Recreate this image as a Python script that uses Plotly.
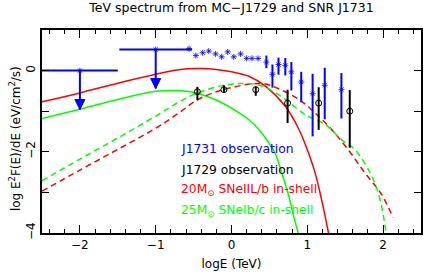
import plotly.graph_objects as go

# ---- model curves (logE [TeV], log E^2 F(E)) ----
red_solid_x = [-2.5, -2.0, -1.5, -1.0, -0.7, -0.45, -0.2, 0.0, 0.23, 0.45, 0.71, 0.89, 1.0, 1.1, 1.19, 1.28]
red_solid_y = [-0.77, -0.55, -0.31, -0.09, 0.02, 0.05, 0.03, -0.03, -0.14, -0.39, -0.88, -1.45, -1.95, -2.5, -3.19, -4.0]

green_solid_x = [-2.5, -2.0, -1.5, -1.0, -0.73, -0.47, -0.16, 0.1, 0.23, 0.36, 0.49, 0.58, 0.65, 0.75, 0.82, 0.88]
green_solid_y = [-1.18, -0.95, -0.71, -0.51, -0.49, -0.55, -0.76, -1.04, -1.21, -1.45, -1.77, -2.05, -2.44, -3.05, -3.59, -4.0]

red_dash_x = [-2.5, -2.0, -1.5, -1.0, -0.7, -0.45, -0.2, 0.0, 0.25, 0.45, 0.6, 0.89, 1.1, 1.32, 1.54, 1.76, 1.98, 2.13]
red_dash_y = [-2.97, -2.45, -1.94, -1.42, -1.05, -0.72, -0.52, -0.42, -0.33, -0.33, -0.43, -0.71, -1.04, -1.45, -1.95, -2.52, -3.05, -3.62]

green_dash_x = [-2.5, -2.0, -1.5, -1.0, -0.7, -0.45, -0.12, 0.1, 0.3, 0.49, 0.71, 0.97, 1.24, 1.45, 1.63, 1.85, 1.96, 2.04]
green_dash_y = [-2.71, -2.18, -1.66, -1.12, -0.78, -0.55, -0.37, -0.32, -0.33, -0.45, -0.71, -1.08, -1.33, -1.70, -1.95, -2.6, -3.18, -4.0]

# ---- J1731 observation ----
ul_x = [-2.0, -1.0]
ul_y = [0.0, 0.52]
ul_xerr = [0.5, 0.48]
ul_tip = [-0.96, -0.44]

j1731_pts_x = [-0.56, -0.47, -0.38, -0.30, -0.21, -0.13, -0.05, 0.03, 0.12, 0.20, 0.27, 0.35]
j1731_pts_y = [0.54, 0.37, 0.44, 0.48, 0.41, 0.34, 0.46, 0.34, 0.41, 0.30, 0.30, 0.30]

j1731_err_x = [0.46, 0.54, 0.62, 0.71, 0.79, 0.92, 1.07, 1.23, 1.45]
j1731_err_y = [0.21, -0.09, 0.15, 0.13, -0.03, -0.28, -0.57, -0.36, -0.47]
j1731_up = [0.16, 0.24, 0.17, 0.18, 0.24, 0.25, 0.49, 0.43, 0.41]
j1731_dn = [0.15, 0.33, 0.25, 0.25, 0.46, 0.50, 1.05, 0.84, 0.71]

# ---- J1729 observation ----
j1729_x = [-0.45, -0.10, 0.32, 0.74, 1.15, 1.56]
j1729_y = [-0.52, -0.47, -0.47, -0.80, -0.80, -1.0]
j1729_up = [0.12, 0.11, 0.08, 0.33, 0.39, 0.52]
j1729_dn = [0.21, 0.08, 0.15, 0.49, 0.66, 0.90]

labels = ["J1731 observation", "J1729 observation",
          "20M<sub>⊙</sub> SNeIIL/b in-shell", "25M<sub>⊙</sub> SNeIb/c in-shell"]
label_y = [-1.92, -2.44, -2.93, -3.45]

BLUE = "#0000ff"
RED = "#ff0000"
GREEN = "#00ff00"
FONT = "DejaVu Sans"

fig = go.Figure()

fig.add_trace(go.Scatter(x=red_solid_x, y=red_solid_y, mode="lines",
                         line=dict(color=RED, width=1.5, shape="spline")))
fig.add_trace(go.Scatter(x=green_solid_x, y=green_solid_y, mode="lines",
                         line=dict(color=GREEN, width=1.5, shape="spline")))
fig.add_trace(go.Scatter(x=red_dash_x, y=red_dash_y, mode="lines",
                         line=dict(color=RED, width=1.5, dash="6px,4px", shape="spline")))
fig.add_trace(go.Scatter(x=green_dash_x, y=green_dash_y, mode="lines",
                         line=dict(color=GREEN, width=1.5, dash="6px,4px", shape="spline")))

# upper limits: horizontal bars + downward arrows
fig.add_trace(go.Scatter(x=ul_x, y=ul_y, mode="markers",
                         marker=dict(symbol="asterisk-open", size=5, color=BLUE, line=dict(color=BLUE, width=0.8)),
                         error_x=dict(type="data", array=ul_xerr, color=BLUE, thickness=2, width=0)))
for xv, yv, tv in zip(ul_x, ul_y, ul_tip):
    fig.add_trace(go.Scatter(x=[xv, xv], y=[yv, tv], mode="lines",
                             line=dict(color=BLUE, width=2)))
fig.add_trace(go.Scatter(x=ul_x, y=ul_tip, mode="markers",
                         marker=dict(symbol="arrow-down", size=10, color=BLUE,
                                     line=dict(color=BLUE, width=1))))

fig.add_trace(go.Scatter(x=j1731_pts_x, y=j1731_pts_y, mode="markers",
                         marker=dict(symbol="asterisk-open", size=5, color=BLUE, line=dict(color=BLUE, width=0.8))))
fig.add_trace(go.Scatter(x=j1731_err_x, y=j1731_err_y, mode="markers",
                         marker=dict(symbol="asterisk-open", size=5, color=BLUE, line=dict(color=BLUE, width=0.8)),
                         error_y=dict(type="data", array=j1731_up, arrayminus=j1731_dn, symmetric=False,
                                      color=BLUE, thickness=2, width=0)))
fig.add_trace(go.Scatter(x=j1729_x, y=j1729_y, mode="markers",
                         marker=dict(symbol="circle-open", size=6, color="black", line=dict(color="black", width=1)),
                         error_y=dict(type="data", array=j1729_up, arrayminus=j1729_dn, symmetric=False,
                                      color="black", thickness=2, width=0)))

for txt, yv, col in zip(labels, label_y, [BLUE, "black", RED, GREEN]):
    fig.add_annotation(x=-0.69, y=yv, xref="x", yref="y", text=txt, showarrow=False,
                       xanchor="left", yanchor="middle", font=dict(family=FONT, size=12.3, color=col))

fig.add_annotation(x=-0.071, y=0.463, xref="paper", yref="paper",
                   text="log E<sup>2</sup>F(E)/dE (eV/cm<sup>2</sup>/s)", textangle=-90, showarrow=False,
                   xanchor="center", yanchor="middle", font=dict(family=FONT, size=12, color="black"))

fig.update_layout(
    width=425, height=273,
    margin=dict(l=42, r=2, t=30, b=40),
    paper_bgcolor="white", plot_bgcolor="white",
    showlegend=False,
    title=dict(text="TeV spectrum from MC−J1729 and SNR J1731", x=0.5, xref="paper",
               y=1 - 8 / 273, yref="container", xanchor="center", yanchor="middle",
               font=dict(family=FONT, size=12.5, color="black")),
    font=dict(family=FONT, size=12, color="black"),
)
fig.update_xaxes(range=[-2.5, 2.5], dtick=1, tick0=0, ticks="inside", ticklen=8, tickwidth=1,
                 tickcolor="black", showline=True, linecolor="black", linewidth=2, mirror="ticks",
                 showgrid=False, zeroline=False,
                 minor=dict(dtick=0.2, tick0=0, ticks="inside", ticklen=4, tickcolor="black", showgrid=False),
                 title=dict(text="logE (TeV)", standoff=8, font=dict(family=FONT, size=12)),
                 tickfont=dict(family=FONT, size=12))
fig.update_yaxes(range=[-4, 1], dtick=2, tick0=0, ticks="inside", ticklen=7, tickwidth=1,
                 tickcolor="black", showline=True, linecolor="black", linewidth=2, mirror="ticks",
                 showgrid=False, zeroline=False, tickangle=-90,
                 minor=dict(dtick=1, tick0=0, ticks="inside", ticklen=7, tickcolor="black", showgrid=False),
                 tickfont=dict(family=FONT, size=12))

fig.write_html("out.html", config={"displayModeBar": False},
               post_script="document.body.style.margin='0px';")
